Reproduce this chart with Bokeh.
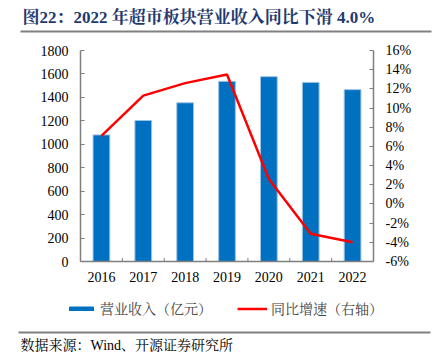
from bokeh.plotting import figure
from bokeh.layouts import column
from bokeh.models import (Range1d, LinearAxis, FixedTicker, PrintfTickFormatter,
                          Legend, LegendItem, ColumnDataSource, FactorRange)
from bokeh.transform import dodge
from bokeh.core.properties import value
from bokeh.embed import file_html
from bokeh.resources import INLINE

years = ["2016", "2017", "2018", "2019", "2020", "2021", "2022"]
revenue = [1080, 1203, 1354, 1537, 1577, 1528, 1466]
growth = [7.1, 11.3, 12.6, 13.5, 2.6, -3.1, -4.0]
left_ticks = list(range(0, 1801, 200))
right_ticks = list(range(-6, 17, 2))

title_text = "图22：2022 年超市板块营业收入同比下滑 4.0%"
source_text = "数据来源：Wind、开源证券研究所"
bar_label = "营业收入（亿元）"
line_label = "同比增速（右轴）"

FONT = "Liberation Serif, Noto Serif CJK SC, Noto Sans CJK SC"
BAR = "#0070C0"
BAR_EDGE = "#9DC3E6"
RED = "#FF0000"
AXIS = "#7F7F7F"
W = 438


def deco_fig(h):
    f = figure(width=W, height=h, x_range=Range1d(0, W), y_range=Range1d(0, h),
               output_backend="svg", toolbar_location=None,
               x_axis_location=None, y_axis_location=None, frame_align=False,
               min_border=0, min_border_left=0, min_border_right=0,
               min_border_top=0, min_border_bottom=0)
    f.grid.visible = False
    f.outline_line_color = None
    return f


# ---- title strip ----
TH = 40
top = deco_fig(TH)
top.text(x=[22], y=[TH - 17], text=[title_text], text_font=value(FONT),
         text_font_size="17px", text_font_style="bold", text_color="#1F3A70",
         text_baseline="middle", text_align="left")
top.segment(x0=[20], y0=[TH - 31], x1=[431], y1=[TH - 31], line_color="#808080", line_width=2)

# ---- main chart ----
MH = 255
src = ColumnDataSource(dict(x=years, rev=revenue, g=growth))
p = figure(width=W, height=MH, x_range=FactorRange(*years), y_range=Range1d(0, 1800),
           output_backend="svg", toolbar_location=None, frame_align=False,
           min_border_left=80, min_border_right=65, min_border_top=10, min_border_bottom=34)
p.extra_y_ranges = {"r": Range1d(-6, 16)}
p.outline_line_color = None
p.grid.visible = False

p.vbar(x="x", top="rev", width=0.4, source=src, fill_color=BAR,
       line_color=BAR_EDGE, line_width=1)
p.line(x="x", y="g", source=src, y_range_name="r", line_color=RED, line_width=2.5)

# small ticks between categories on the x axis
bsrc = ColumnDataSource(dict(x=years[:-1]))
p.segment(x0=dodge("x", 0.5, range=p.x_range), x1=dodge("x", 0.5, range=p.x_range),
          y0=0, y1=30, source=bsrc, line_color=AXIS, line_width=1)

for ax in [p.xaxis[0], p.yaxis[0]]:
    ax.axis_line_color = AXIS
    ax.axis_line_width = 1.5
    ax.major_tick_line_color = AXIS
    ax.major_label_text_font = FONT
    ax.major_label_text_font_size = "14px"
    ax.major_label_text_color = "#000000"
    ax.minor_tick_line_color = None

p.yaxis[0].ticker = FixedTicker(ticks=left_ticks)
p.yaxis[0].major_tick_in = 4
p.yaxis[0].major_tick_out = 0
p.yaxis[0].major_label_standoff = 12
p.xaxis[0].major_tick_in = 0
p.xaxis[0].major_tick_out = 0
p.xaxis[0].major_label_standoff = 10

ra = LinearAxis(y_range_name="r", ticker=FixedTicker(ticks=right_ticks),
                formatter=PrintfTickFormatter(format="%d%%"))
ra.axis_line_color = AXIS
ra.axis_line_width = 1.5
ra.major_tick_line_color = AXIS
ra.major_tick_in = 4
ra.major_tick_out = 0
ra.minor_tick_line_color = None
ra.major_label_standoff = 12
ra.major_label_text_font = FONT
ra.major_label_text_font_size = "14px"
ra.major_label_text_color = "#000000"
p.add_layout(ra, "right")

# ---- bottom strip: legend, rule, source ----
BH = 353 - TH - MH
bot = deco_fig(BH)
# legend swatch renderers (placed outside the visible strip)
lb = bot.vbar(x=[-1000], top=[-1000], bottom=[-1001], width=1, fill_color=BAR, line_color=BAR)
ll = bot.line(x=[-1000, -999], y=[-1000, -1000], line_color=RED, line_width=2.5)
legend = Legend(items=[LegendItem(label=bar_label, renderers=[lb]),
                       LegendItem(label=line_label, renderers=[ll])],
                location=(66, BH - 14 - 9), orientation="horizontal",
                label_text_font=FONT, label_text_font_size="14px",
                glyph_width=30, glyph_height=5, spacing=25, padding=0, margin=0,
                label_standoff=4, border_line_color=None, background_fill_alpha=0)
bot.add_layout(legend, "center")
bot.segment(x0=[18], y0=[BH - 37], x1=[430], y1=[BH - 37], line_color="#808080", line_width=2)
bot.text(x=[20], y=[BH - 50], text=[source_text], text_font=value(FONT),
         text_font_size="14px", text_color="#000000", text_baseline="middle", text_align="left")

layout = column(top, p, bot, spacing=0)
open("out.html", "w").write(file_html(layout, INLINE))
